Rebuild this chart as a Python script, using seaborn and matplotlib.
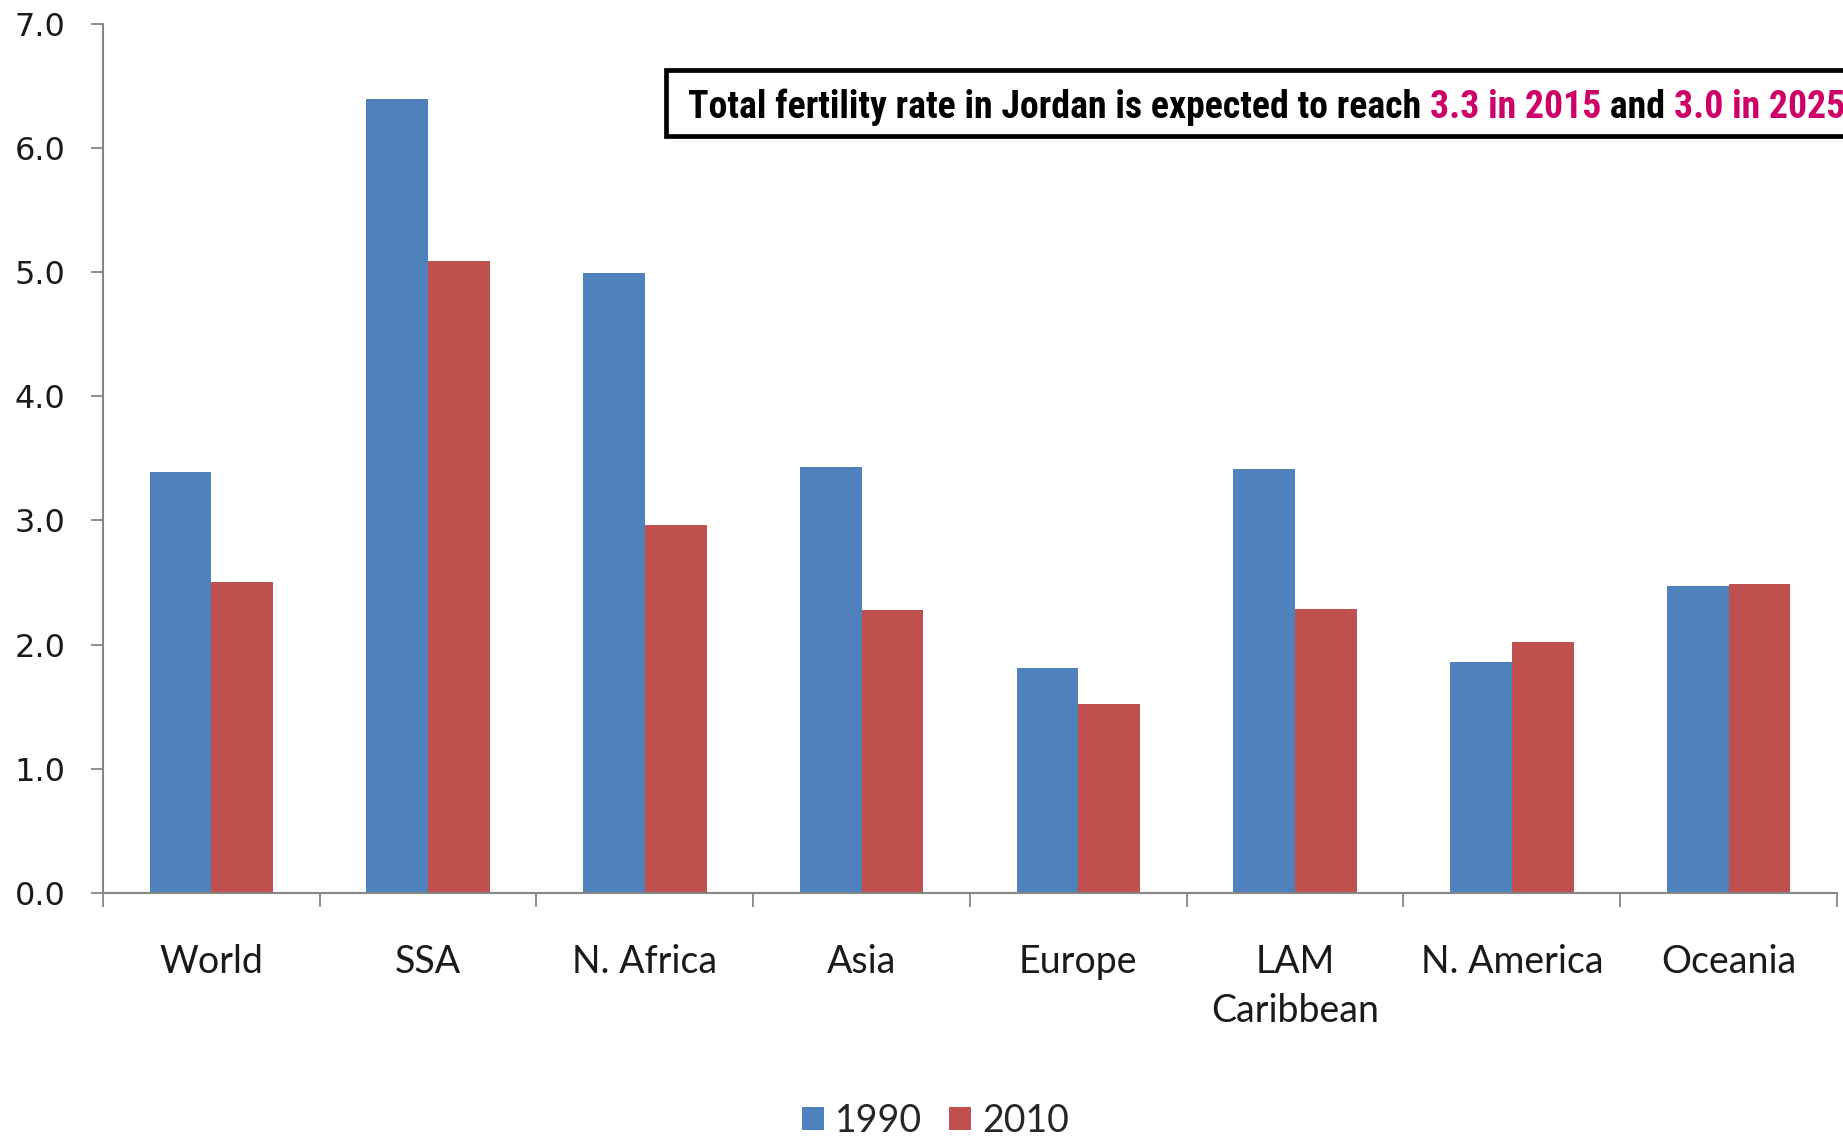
import numpy as np
import pandas as pd
import matplotlib
matplotlib.use("Agg")
import matplotlib.pyplot as plt
import seaborn as sns
from matplotlib.patches import Rectangle, Patch
from matplotlib.offsetbox import TextArea, HPacker, AnchoredOffsetbox

# ---- data ----
regions = ["World", "SSA", "N. Africa", "Asia", "Europe", "LAM\nCaribbean", "N. America", "Oceania"]
tfr_1990 = [3.39, 6.39, 4.99, 3.43, 1.81, 3.41, 1.86, 2.47]
tfr_2010 = [2.50, 5.09, 2.96, 2.28, 1.52, 2.29, 2.02, 2.49]
years = ["1990", "2010"]
y_ticks = [0, 1, 2, 3, 4, 5, 6, 7]
note_parts = [
    ("Total fertility rate in Jordan is expected to reach ", "black"),
    ("3.3 in 2015", "#CC0066"),
    (" and ", "black"),
    ("3.0 in 2025", "#CC0066"),
]

df = pd.DataFrame({
    "region": regions * 2,
    "tfr": tfr_1990 + tfr_2010,
    "year": [years[0]] * len(regions) + [years[1]] * len(regions),
})

sns.set_style("white")
plt.rcParams["font.family"] = ["Lato", "DejaVu Sans"]

colors = ["#4F81BD", "#C0504D"]
fig = plt.figure(figsize=(18.43, 11.36), dpi=100)
ax = fig.add_axes([0.0559, 0.2139, 0.9408, 0.7654])

sns.barplot(data=df, x="region", y="tfr", hue="year", palette=colors,
            width=0.57, gap=0, saturation=1, errorbar=None, legend=False,
            linewidth=0, ax=ax)

ax.set_xlim(-0.5, 7.5)
ax.set_ylim(0, 7)
ax.set_xlabel("")
ax.set_ylabel("")

spine_c = "#868686"
for s in ["top", "right"]:
    ax.spines[s].set_visible(False)
for s in ["left", "bottom"]:
    ax.spines[s].set_color(spine_c)
    ax.spines[s].set_linewidth(1.5)

# x: major ticks at category boundaries, labels on minor ticks at centres
ax.set_xticks(np.arange(-0.5, 8, 1))
ax.set_xticklabels([""] * 9)
ax.set_xticks(np.arange(len(regions)), minor=True)
ax.set_xticklabels(regions, minor=True)
ax.tick_params(axis="x", which="major", length=10, width=1.3, color=spine_c, direction="out", bottom=True)
ax.tick_params(axis="x", which="minor", length=0, pad=37, labelsize=27, labelcolor="#1a1a1a", bottom=True)
for lbl in ax.get_xticklabels(minor=True):
    lbl.set_linespacing(1.45)

ax.set_yticks(y_ticks)
ax.set_yticklabels([f"{v:.1f}" for v in y_ticks])
ax.tick_params(axis="y", length=9, width=1.3, color=spine_c, direction="out", pad=18,
               labelsize=23, labelcolor="#1a1a1a", left=True)
for lbl in ax.get_yticklabels():
    lbl.set_fontfamily("DejaVu Sans")

# legend
handles = [Patch(facecolor=c, edgecolor="none") for c in colors]
fig.legend(handles, years, loc="center", bbox_to_anchor=(0.5075, 0.0135), ncol=2,
           frameon=False, fontsize=27, handlelength=0.6, handleheight=0.6,
           handletextpad=0.28, columnspacing=0.72, borderpad=0, borderaxespad=0)

# annotation box
fig.patches.append(Rectangle((0.3614, 0.8803), 0.7, 0.0581, transform=fig.transFigure,
                             facecolor="white", edgecolor="black", linewidth=3.4, zorder=5))

note_family = ["Roboto Condensed", "DejaVu Sans Condensed", "Liberation Sans Narrow", "Lato", "DejaVu Sans"]
# fit the note's font size to the width it spans in the reference (~1160 px)
renderer = fig.canvas.get_renderer()
probe = fig.text(0, 0, "".join(p[0] for p in note_parts), fontsize=24, fontweight="bold",
                 family=note_family)
w = probe.get_window_extent(renderer).width
probe.remove()
note_size = min(30.0, 24 * 1160.0 / w)

areas = [TextArea(t, textprops=dict(color=c, fontsize=note_size, fontweight="bold",
                                    family=note_family)) for t, c in note_parts]
pack = HPacker(children=areas, align="baseline", pad=0, sep=0)
box = AnchoredOffsetbox(loc="center left", child=pack, pad=0, borderpad=0, frameon=False,
                        bbox_to_anchor=(0.3733, 0.9055), bbox_transform=fig.transFigure)
box.set_zorder(6)
fig.add_artist(box)

fig.savefig("out.png", dpi=100)
